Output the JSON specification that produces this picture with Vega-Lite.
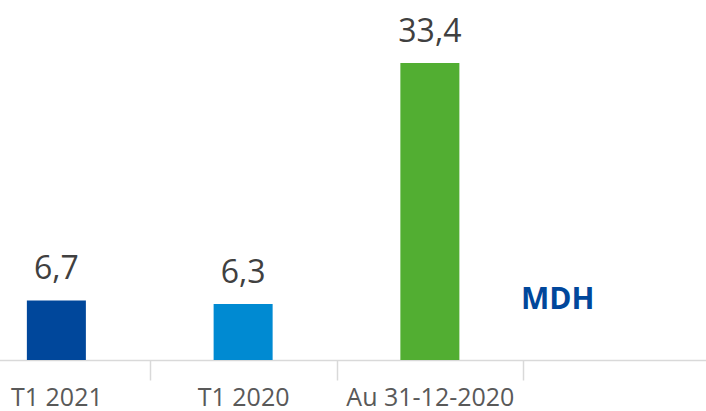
{
  "$schema": "https://vega.github.io/schema/vega-lite/v6.json",
  "width": 706,
  "height": 360,
  "autosize": {"type": "none"},
  "padding": {"left": 0, "top": 0, "right": 0, "bottom": 51},
  "background": "white",
  "config": {
    "view": {"stroke": null},
    "locale": {"number": {"decimal": ",", "thousands": " ", "grouping": [3], "currency": ["", ""]}}
  },
  "datasets": {
    "bars": [
      {"period": "T1 2021", "value": 6.7},
      {"period": "T1 2020", "value": 6.3},
      {"period": "Au 31-12-2020", "value": 33.4}
    ],
    "note": [
      {"period": "MDH", "value": 5.75, "label": "MDH"}
    ]
  },
  "layer": [
    {
      "data": {"name": "bars"},
      "mark": {"type": "bar"},
      "encoding": {
        "x": {
          "field": "period",
          "type": "nominal",
          "sort": null,
          "scale": {
            "domain": ["T1 2021", "T1 2020", "Au 31-12-2020", "MDH"],
            "range": [-37, 710],
            "paddingInner": 0.684,
            "paddingOuter": 0.342
          },
          "axis": {
            "title": null,
            "labelAngle": 0,
            "tickOffset": 93.4,
            "labelOffset": -93.4,
            "domainColor": "#D9D9D9",
            "domainWidth": 1.5,
            "tickColor": "#D9D9D9",
            "tickWidth": 1.5,
            "tickSize": 20,
            "labelFont": "Open Sans",
            "labelFontSize": 25,
            "labelColor": "#595959",
            "labelPadding": 5,
            "labelExpr": "datum.value == 'MDH' ? '' : datum.value"
          }
        },
        "y": {
          "field": "value",
          "type": "quantitative",
          "scale": {"domain": [0, 40.5], "nice": false},
          "axis": null
        },
        "color": {
          "field": "period",
          "type": "nominal",
          "scale": {
            "domain": ["T1 2021", "T1 2020", "Au 31-12-2020"],
            "range": ["#00479B", "#008AD2", "#52AE32"]
          },
          "legend": null
        }
      }
    },
    {
      "data": {"name": "bars"},
      "mark": {"type": "text", "font": "Open Sans", "fontSize": 32, "color": "#404040", "baseline": "alphabetic", "dy": -21},
      "encoding": {
        "x": {"field": "period", "type": "nominal", "sort": null},
        "y": {"field": "value", "type": "quantitative"},
        "text": {"field": "value", "type": "quantitative", "format": ".1f"}
      }
    },
    {
      "data": {"name": "note"},
      "mark": {"type": "text", "font": "Open Sans", "fontSize": 30, "fontWeight": "bold", "color": "#00479B", "baseline": "alphabetic", "align": "center", "dx": -59},
      "encoding": {
        "x": {"field": "period", "type": "nominal", "sort": null},
        "y": {"field": "value", "type": "quantitative"},
        "text": {"field": "label", "type": "nominal"}
      }
    }
  ]
}
